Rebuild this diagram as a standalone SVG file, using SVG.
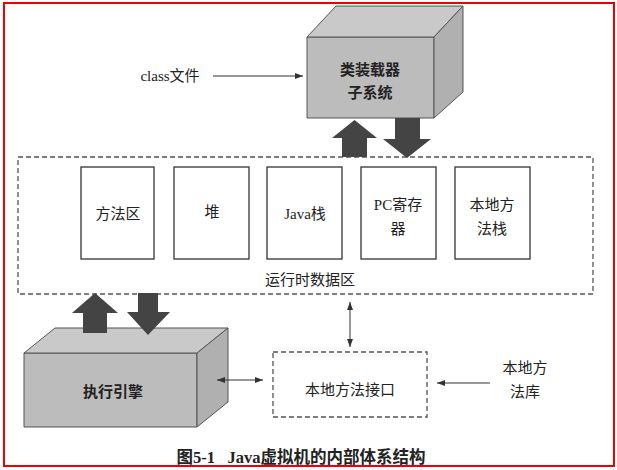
<svg xmlns="http://www.w3.org/2000/svg" width="617" height="470" viewBox="0 0 617 470">
<defs>
<style>
.t{font-family:"Liberation Serif","Noto Sans CJK SC",serif;font-size:15px;fill:#222;text-anchor:middle}
.b{font-weight:bold}
.box{fill:#fff;stroke:#333;stroke-width:1.3}
.dash{fill:none;stroke:#555;stroke-width:1.3;stroke-dasharray:5 3}
.ln{stroke:#333;stroke-width:1;fill:none}
.big{fill:#444}
.front{fill:#bcbcbc;stroke:#555;stroke-width:1}
.top{fill:#c9c9c9;stroke:#555;stroke-width:1}
.side{fill:#b0b0b0;stroke:#555;stroke-width:1}
</style>
<marker id="ah" markerWidth="8" markerHeight="6" refX="8" refY="3" orient="auto" markerUnits="userSpaceOnUse">
<path d="M0,0 L8,3 L0,6 Z" fill="#333"/>
</marker>
<marker id="as" markerWidth="8" markerHeight="6" refX="0" refY="3" orient="auto" markerUnits="userSpaceOnUse">
<path d="M8,0 L0,3 L8,6 Z" fill="#333"/>
</marker>
</defs>
<rect x="0" y="0" width="617" height="470" fill="#fff"/>
<rect x="4" y="3" width="610" height="463" fill="none" stroke="#e00" stroke-width="2"/>

<g id="classloader">
<polygon class="front" points="307,37 434,37 434,118 307,118"/>
<polygon class="top" points="307,37 336,6 463,6 434,37"/>
<polygon class="side" points="434,37 463,6 463,92 434,118"/>
<text class="t b" x="370" y="75">类装载器</text>
<text class="t b" x="370" y="98">子系统</text>
</g>

<g id="runtime">
<rect class="dash" x="18" y="157" width="575" height="137"/>
<text class="t" x="310" y="285">运行时数据区</text>
</g>
<g id="method-area">
<rect class="box" x="81" y="167" width="73" height="92"/>
<text class="t" x="118" y="219">方法区</text>
</g>
<g id="heap">
<rect class="box" x="174" y="167" width="75" height="92"/>
<text class="t" x="212" y="217">堆</text>
</g>
<g id="java-stack">
<rect class="box" x="267" y="167" width="75" height="92"/>
<text class="t" x="305" y="219">Java栈</text>
</g>
<g id="pc-register">
<rect class="box" x="361" y="167" width="75" height="92"/>
<text class="t" x="398" y="210">PC寄存</text>
<text class="t" x="398" y="234">器</text>
</g>
<g id="native-stack">
<rect class="box" x="455" y="167" width="75" height="92"/>
<text class="t" x="492" y="210">本地方</text>
<text class="t" x="492" y="234">法栈</text>
</g>

<g id="engine">
<polygon class="front" points="24,353 197,353 197,427 24,427"/>
<polygon class="top" points="24,353 55,328 228,328 197,353"/>
<polygon class="side" points="197,353 228,328 228,402 197,427"/>
<text class="t b" x="113" y="397">执行引擎</text>
</g>

<g id="native-interface">
<rect class="dash" x="273" y="352" width="154" height="65"/>
<text class="t" x="350" y="395">本地方法接口</text>
</g>

<g id="classfile">
<text class="t" x="170" y="81">class文件</text>
</g>
<g id="native-lib">
<text class="t" x="525" y="373">本地方</text>
<text class="t" x="525" y="397">法库</text>
</g>

<g id="connectors">
<line class="ln" x1="213" y1="76" x2="303" y2="76" marker-end="url(#ah)"/>
<polygon class="big" points="354.5,120 377,138 367,138 367,157 342,157 342,138 332,138"/>
<polygon class="big" points="395,118 420,118 420,139 431,139 407,158 383,139 395,139"/>
<polygon class="big" points="95,293 118,313 107,313 107,333 83,333 83,313 72,313"/>
<polygon class="big" points="138,293 158,293 158,312 170,312 148,335 127,312 138,312"/>
<line class="ln" x1="217" y1="380" x2="263" y2="380" marker-start="url(#as)" marker-end="url(#ah)"/>
<line class="ln" x1="350" y1="302" x2="350" y2="347" marker-start="url(#as)" marker-end="url(#ah)"/>
<line class="ln" x1="490" y1="383" x2="437" y2="383" marker-end="url(#ah)"/>
</g>

<g id="caption">
<text class="t b" x="301" y="463" style="font-size:16.5px" xml:space="preserve">图5-1   Java虚拟机的内部体系结构</text>
</g>
</svg>
